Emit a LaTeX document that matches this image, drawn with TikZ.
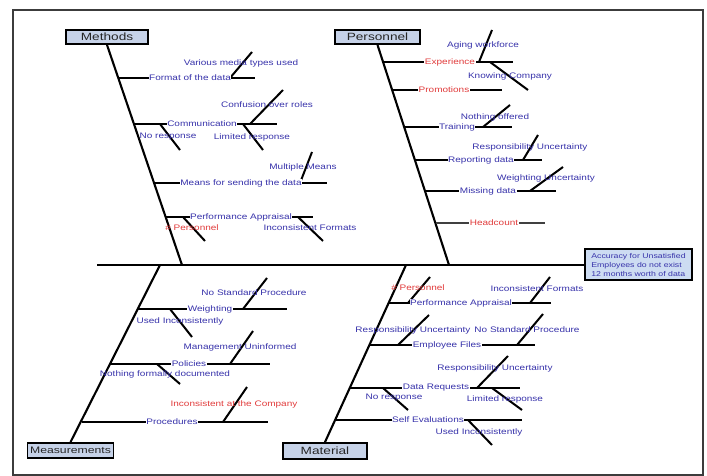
\documentclass[tikz,border=0pt]{standalone}
\usepackage{fontspec}
\newfontfamily\lblfam[FakeStretch=1.25]{Liberation Sans}
\newfontfamily\catfam[FakeStretch=1.3]{Liberation Sans}
\definecolor{lblblue}{RGB}{55,50,170}
\definecolor{lblred}{RGB}{225,60,60}
\definecolor{catfill}{RGB}{198,210,232}
\definecolor{efffill}{RGB}{205,220,242}
\definecolor{framec}{RGB}{60,60,60}
\tikzset{
  bone/.style={line width=2.1pt},
  branch/.style={line width=1.6pt},
  subbone/.style={line width=2pt},
  lbl/.style={font={\lblfam\fontsize{8}{9}\selectfont}, text=lblblue, fill=white, inner sep=0.6pt},
  rlbl/.style={lbl, text=lblred},
  slbl/.style={font={\lblfam\fontsize{8}{9}\selectfont}, text=lblblue, inner sep=0.6pt},
  srlbl/.style={slbl, text=lblred},
  catbox/.style={draw=black, line width=1.8pt, fill=catfill, font={\catfam\fontsize{10.5}{12}\selectfont}, text=black!85, inner sep=0pt},
  effbox/.style={draw=black, line width=1.8pt, fill=efffill, font={\lblfam\fontsize{7}{9}\selectfont}, text=lblblue, align=left, inner sep=0pt}
}
\begin{document}
\begin{tikzpicture}[x=1pt,y=-1pt]
\useasboundingbox (0,0) rectangle (707,476);
\draw[framec, line width=1.3pt] (13,10) rectangle (703,475);

% category boxes and effect
\node[catbox, minimum width=82pt, minimum height=14pt] (methods) at (107,37) {Methods};
\node[catbox, minimum width=85pt, minimum height=14pt] (personnel) at (377.5,37) {Personnel};
\node[catbox, minimum width=86pt, minimum height=15pt, font={\catfam\fontsize{9.4}{11}\selectfont}] (measure) at (70.5,450.5) {Measurements};
\node[catbox, minimum width=84pt, minimum height=16pt] (material) at (325,451) {Material};
\node[effbox, minimum width=107pt, minimum height=31pt] (effect) at (638.5,264.5) {Accuracy for Unsatisfied\\Employees do not exist\\12 months worth of data};

% spine
\coordinate (tail) at (97,265);
\coordinate (ms) at (182,265);
\coordinate (ps) at (449,265);
\coordinate (mes) at (160,265);
\coordinate (mas) at (406,265);
\draw[bone] (tail) -- (tail -| effect.west);
\draw[bone] (methods.south) -- (ms);
\draw[bone] (personnel.south) -- (ps);
\draw[bone] (mes) -- (measure.north);
\draw[bone] (mas) -- (material.north);

% ---------------- Methods ----------------
\coordinate (m1a) at (119.4,78);  \coordinate (m1b) at (255,78);
\coordinate (m2a) at (134.8,124); \coordinate (m2b) at (277,124);
\coordinate (m3a) at (154.5,183); \coordinate (m3b) at (327,183);
\coordinate (m4a) at (165.9,217); \coordinate (m4b) at (313,217);
\draw[branch] (m1a) -- (m1b);
\draw[branch] (m2a) -- (m2b);
\draw[branch] (m3a) -- (m3b);
\draw[branch] (m4a) -- (m4b);
\coordinate (ms1a) at (230,78);  \coordinate (ms1b) at (252,52);
\coordinate (ms2a) at (250,124); \coordinate (ms2b) at (283,90);
\coordinate (ms3a) at (160,124); \coordinate (ms3b) at (180,150);
\coordinate (ms4a) at (243,124); \coordinate (ms4b) at (263,150);
\coordinate (ms5a) at (300,183); \coordinate (ms5b) at (312,152);
\coordinate (ms6a) at (183,217); \coordinate (ms6b) at (205,241);
\coordinate (ms7a) at (298,217); \coordinate (ms7b) at (323,241);
\foreach \s in {ms1,ms2,ms3,ms4,ms5,ms6,ms7} \draw[subbone] (\s a) -- (\s b);
\node[lbl] (tm1) at (190,78) {Format of the data};
\node[slbl] (tm1s) at (241,63) {Various media types used};
\node[lbl] (tm2) at (202,124) {Communication};
\node[slbl] (tm2s) at (267,105) {Confusion over roles};
\node[slbl] (tm2d) at (168,137) {No response};
\node[slbl] (tm2e) at (252,137) {Limited response};
\node[lbl] (tm3) at (241,183) {Means for sending the data};
\node[slbl] (tm3s) at (303,167) {Multiple Means};
\node[lbl] (tm4) at (241,217) {Performance Appraisal};
\node[srlbl] (tm4d) at (192,228) {\# Personnel};
\node[slbl] (tm4e) at (310,228) {Inconsistent Formats};

% ---------------- Personnel ----------------
\coordinate (p1a) at (383.8,62);  \coordinate (p1b) at (513,62);
\coordinate (p2a) at (392.8,90);  \coordinate (p2b) at (502,90);
\coordinate (p3a) at (404.7,127); \coordinate (p3b) at (512,127);
\coordinate (p4a) at (415.3,160); \coordinate (p4b) at (542,160);
\coordinate (p5a) at (425.2,191); \coordinate (p5b) at (556,191);
\coordinate (p6a) at (435.5,223); \coordinate (p6b) at (545,223);
\draw[branch] (p1a) -- (p1b);
\draw[branch] (p2a) -- (p2b);
\draw[branch] (p3a) -- (p3b);
\draw[branch] (p4a) -- (p4b);
\draw[branch] (p5a) -- (p5b);
\draw[branch, black!75] (p6a) -- (p6b);
\coordinate (ps1a) at (479,62);  \coordinate (ps1b) at (492,30);
\coordinate (ps2a) at (490,62);  \coordinate (ps2b) at (528,90);
\coordinate (ps3a) at (483,127); \coordinate (ps3b) at (510,105);
\coordinate (ps4a) at (523,160); \coordinate (ps4b) at (538,135);
\coordinate (ps5a) at (530,191); \coordinate (ps5b) at (563,167);
\foreach \s in {ps1,ps2,ps3,ps4,ps5} \draw[subbone] (\s a) -- (\s b);
\node[rlbl] (tp1) at (450,62) {Experience};
\node[slbl] (tp1s) at (483,45) {Aging workforce};
\node[slbl] (tp1d) at (510,76) {Knowing Company};
\node[rlbl] (tp2) at (444,90) {Promotions};
\node[lbl] (tp3) at (457,127) {Training};
\node[slbl] (tp3s) at (495,117) {Nothing offered};
\node[lbl] (tp4) at (481,160) {Reporting data};
\node[slbl] (tp4s) at (530,147) {Responsibility Uncertainty};
\node[lbl] (tp5) at (488,191) {Missing data};
\node[slbl] (tp5s) at (546,178) {Weighting Uncertainty};
\node[rlbl] (tp6) at (494,223) {Headcount};

% ---------------- Measurements ----------------
\coordinate (e1a) at (138.2,309); \coordinate (e1b) at (287,309);
\coordinate (e2a) at (111.1,364); \coordinate (e2b) at (270,364);
\coordinate (e3a) at (82.4,422);  \coordinate (e3b) at (268,422);
\draw[branch] (e1a) -- (e1b);
\draw[branch] (e2a) -- (e2b);
\draw[branch] (e3a) -- (e3b);
\coordinate (es1a) at (243,309); \coordinate (es1b) at (267,278);
\coordinate (es2a) at (170,309); \coordinate (es2b) at (192,337);
\coordinate (es3a) at (230,364); \coordinate (es3b) at (253,331);
\coordinate (es4a) at (157,364); \coordinate (es4b) at (180,384);
\coordinate (es5a) at (223,422); \coordinate (es5b) at (247,387);
\foreach \s in {es1,es2,es3,es4,es5} \draw[subbone] (\s a) -- (\s b);
\node[lbl] (te1) at (210,309) {Weighting};
\node[slbl] (te1s) at (254,293) {No Standard Procedure};
\node[slbl] (te1d) at (180,321) {Used Inconsistently};
\node[lbl] (te2) at (189,364) {Policies};
\node[slbl] (te2s) at (240,347) {Management Uninformed};
\node[slbl] (te2d) at (165,374) {Nothing formally documented};
\node[lbl] (te3) at (172,422) {Procedures};
\node[srlbl] (te3s) at (234,404) {Inconsistent at the Company};

% ---------------- Material ----------------
\coordinate (a1a) at (388.7,303); \coordinate (a1b) at (551,303);
\coordinate (a2a) at (369.6,345); \coordinate (a2b) at (535,345);
\coordinate (a3a) at (350,388);   \coordinate (a3b) at (520,388);
\coordinate (a4a) at (335.5,420); \coordinate (a4b) at (522,420);
\draw[branch] (a1a) -- (a1b);
\draw[branch] (a2a) -- (a2b);
\draw[branch] (a3a) -- (a3b);
\draw[branch] (a4a) -- (a4b);
\coordinate (as1a) at (408,303); \coordinate (as1b) at (430,277);
\coordinate (as2a) at (530,303); \coordinate (as2b) at (550,277);
\coordinate (as3a) at (398,345); \coordinate (as3b) at (429,315);
\coordinate (as4a) at (517,345); \coordinate (as4b) at (543,314);
\coordinate (as5a) at (477,388); \coordinate (as5b) at (508,356);
\coordinate (as6a) at (383,388); \coordinate (as6b) at (408,410);
\coordinate (as7a) at (492,388); \coordinate (as7b) at (522,410);
\coordinate (as8a) at (468,420); \coordinate (as8b) at (492,445);
\foreach \s in {as1,as2,as3,as4,as5,as6,as7,as8} \draw[subbone] (\s a) -- (\s b);
\node[lbl] (ta1) at (461,303) {Performance Appraisal};
\node[srlbl] (ta1s) at (418,288) {\# Personnel};
\node[slbl] (ta1t) at (537,289) {Inconsistent Formats};
\node[lbl] (ta2) at (447,345) {Employee Files};
\node[slbl] (ta2s) at (413,330) {Responsibility Uncertainty};
\node[slbl] (ta2t) at (527,330) {No Standard Procedure};
\node[lbl] (ta3) at (436,388) {Data Requests};
\node[slbl] (ta3s) at (495,368) {Responsibility Uncertainty};
\node[slbl] (ta3d) at (394,398) {No response};
\node[slbl] (ta3e) at (505,399) {Limited response};
\node[lbl] (ta4) at (428,420) {Self Evaluations};
\node[slbl] (ta4d) at (479,432) {Used Inconsistently};
\end{tikzpicture}
\end{document}
